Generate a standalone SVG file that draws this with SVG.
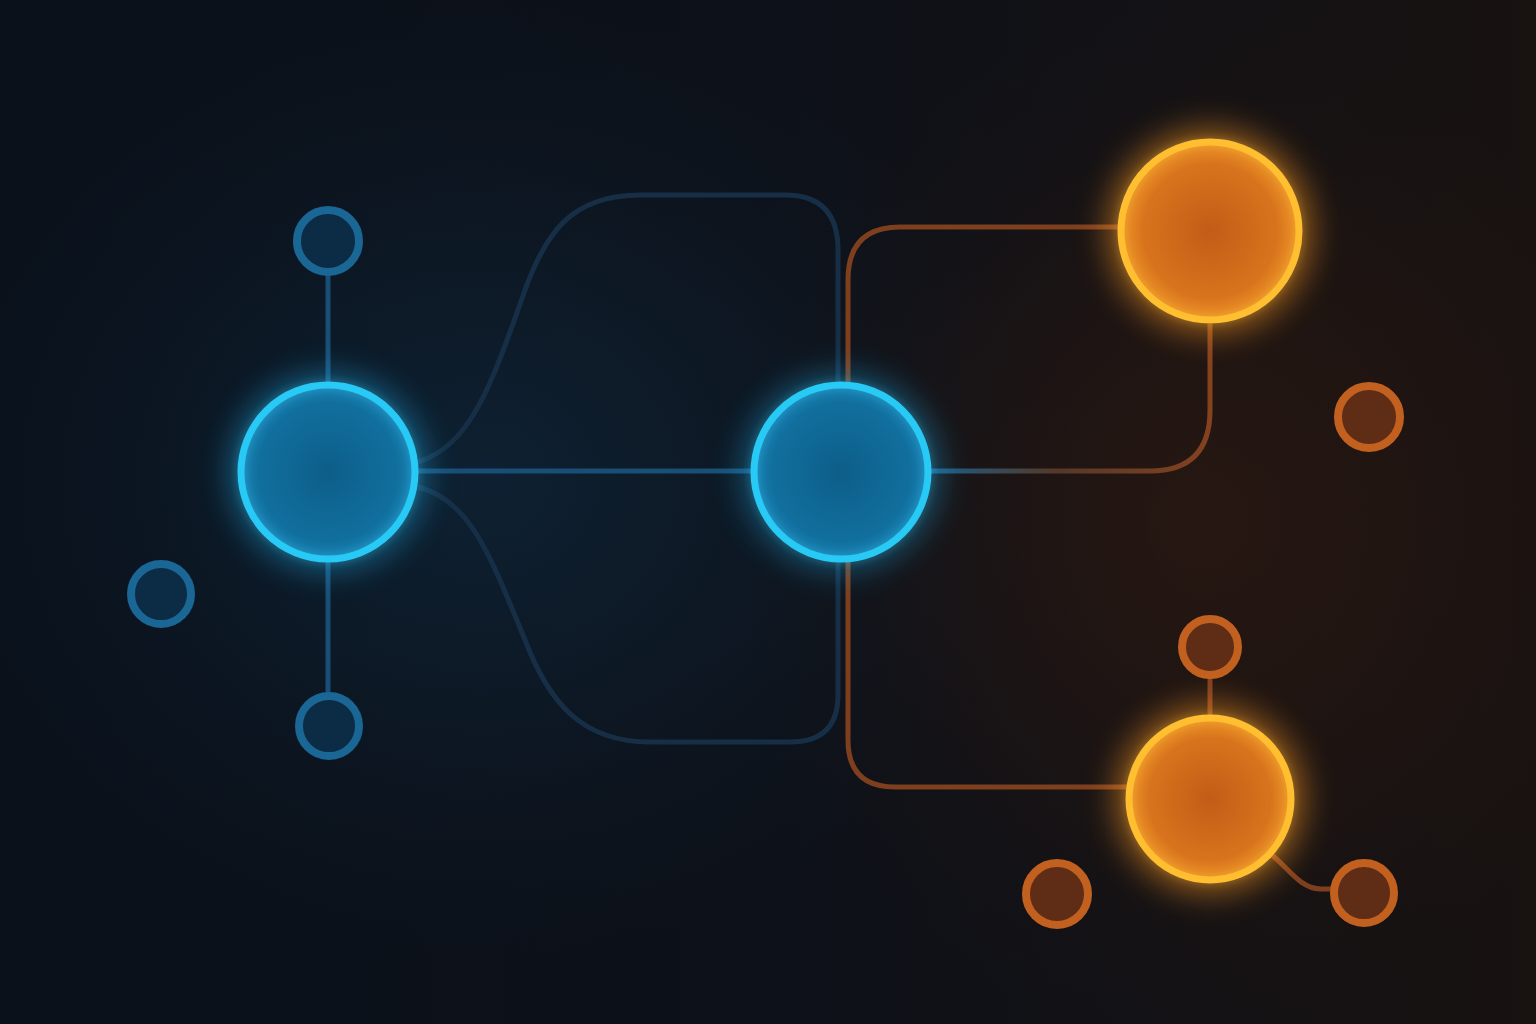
<svg xmlns="http://www.w3.org/2000/svg" width="1536" height="1024" viewBox="0 0 1536 1024">
<defs>
<linearGradient id="bg" x1="0" y1="0" x2="1" y2="0">
<stop offset="0" stop-color="#0a111b"/>
<stop offset="0.5" stop-color="#0d1119"/>
<stop offset="1" stop-color="#181211"/>
</linearGradient>
<radialGradient id="bgBlue" cx="0.5" cy="0.5" r="0.5">
<stop offset="0" stop-color="#0f2d45" stop-opacity="0.55"/>
<stop offset="0.4" stop-color="#0f2d45" stop-opacity="0.3"/>
<stop offset="0.75" stop-color="#0f2d45" stop-opacity="0.08"/>
<stop offset="1" stop-color="#0f2d45" stop-opacity="0"/>
</radialGradient>
<radialGradient id="bgOrange" cx="0.5" cy="0.5" r="0.5">
<stop offset="0" stop-color="#3a1c0e" stop-opacity="0.5"/>
<stop offset="0.4" stop-color="#3a1c0e" stop-opacity="0.3"/>
<stop offset="0.75" stop-color="#3a1c0e" stop-opacity="0.08"/>
<stop offset="1" stop-color="#3a1c0e" stop-opacity="0"/>
</radialGradient>
<radialGradient id="blueFill" cx="0.5" cy="0.5" r="0.5">
<stop offset="0" stop-color="#0d5e88"/>
<stop offset="0.8" stop-color="#116f9e"/>
<stop offset="1" stop-color="#1a86b8"/>
</radialGradient>
<radialGradient id="orangeFill" cx="0.5" cy="0.5" r="0.5">
<stop offset="0" stop-color="#c25c17"/>
<stop offset="0.75" stop-color="#d8731d"/>
<stop offset="1" stop-color="#ee9628"/>
</radialGradient>
<linearGradient id="bo" x1="931" y1="0" x2="1210" y2="0" gradientUnits="userSpaceOnUse">
<stop offset="0" stop-color="#1b5c86"/>
<stop offset="0.45" stop-color="#553828"/>
<stop offset="1" stop-color="#84421f"/>
</linearGradient>
<filter id="glow" x="-60%" y="-60%" width="220%" height="220%">
<feGaussianBlur stdDeviation="16"/>
</filter>
<filter id="softglow" x="-50%" y="-50%" width="200%" height="200%">
<feGaussianBlur stdDeviation="5"/>
</filter>
<style>
.bline{fill:none;stroke:#194f76;stroke-width:5;stroke-linecap:round}
.bdim{fill:none;stroke:#172f46;stroke-width:5}
.oline{fill:none;stroke:#7e3f1f;stroke-width:5}
.bsmall{fill:#0b2c44;stroke:#1a6694;stroke-width:8}
.osmall{fill:#5f2c16;stroke:#c2611f;stroke-width:8}
.bbig{fill:url(#blueFill);stroke:#22c6f4;stroke-width:7}
.obig{fill:url(#orangeFill);stroke:#ffbb2c;stroke-width:7}
</style>
</defs>
<rect width="1536" height="1024" fill="url(#bg)"/>
<ellipse cx="480" cy="480" rx="560" ry="480" fill="url(#bgBlue)"/>
<ellipse cx="1200" cy="520" rx="460" ry="520" fill="url(#bgOrange)"/>

<g id="connectors">
<path class="bline" d="M328 274 V383"/>
<path class="bline" d="M328 562 V694"/>
<path class="bline" d="M418 471 H751"/>
<path class="bdim" d="M418 462 C470 445 490 390 525 290 C545 235 570 195 640 195 H785 Q838 195 838 250 V383"/>
<path class="bdim" d="M418 487 C470 500 490 555 525 640 C548 700 580 742 650 742 H790 Q838 742 838 695 V562"/>
<path class="oline" d="M848 383 V280 Q848 227 900 227 H1118"/>
<path fill="none" stroke="url(#bo)" stroke-width="5" d="M931 471 H1150 Q1210 471 1210 410 V324"/>
<path class="oline" d="M848 562 V740 Q848 787 895 787 H1127"/>
<path class="oline" d="M1210 716 V677"/>
<path class="oline" d="M1272 855 C1290 870 1300 888 1320 889 H1332"/>
</g>

<g id="small-blue-top"><circle class="bsmall" cx="328" cy="241" r="31"/></g>
<g id="small-blue-left"><circle class="bsmall" cx="161" cy="594" r="30"/></g>
<g id="small-blue-bottom"><circle class="bsmall" cx="329" cy="726" r="30"/></g>
<g id="small-orange-right"><circle class="osmall" cx="1369" cy="417" r="31"/></g>
<g id="small-orange-top"><circle class="osmall" cx="1210" cy="647" r="28"/></g>
<g id="small-orange-left"><circle class="osmall" cx="1057" cy="894" r="31"/></g>
<g id="small-orange-br"><circle class="osmall" cx="1364" cy="893" r="30"/></g>

<g id="node-blue-a">
<circle cx="328" cy="472" r="98" fill="#1aa6e0" opacity="0.5" filter="url(#glow)"/>
<circle class="bbig" cx="328" cy="472" r="87"/>
<circle cx="328" cy="472" r="87" fill="none" stroke="#4fe0ff" stroke-width="3" opacity="0.6" filter="url(#softglow)"/>
</g>
<g id="node-blue-b">
<circle cx="841" cy="472" r="98" fill="#1aa6e0" opacity="0.45" filter="url(#glow)"/>
<circle class="bbig" cx="841" cy="472" r="87"/>
<circle cx="841" cy="472" r="87" fill="none" stroke="#4fe0ff" stroke-width="3" opacity="0.6" filter="url(#softglow)"/>
</g>
<g id="node-orange-c">
<circle cx="1210" cy="231" r="102" fill="#ff9a20" opacity="0.55" filter="url(#glow)"/>
<circle class="obig" cx="1210" cy="231" r="89"/>
<circle cx="1210" cy="231" r="89" fill="none" stroke="#ffd84a" stroke-width="3" opacity="0.6" filter="url(#softglow)"/>
</g>
<g id="node-orange-d">
<circle cx="1210" cy="799" r="94" fill="#ff9a20" opacity="0.55" filter="url(#glow)"/>
<circle class="obig" cx="1210" cy="799" r="81"/>
<circle cx="1210" cy="799" r="81" fill="none" stroke="#ffd84a" stroke-width="3" opacity="0.6" filter="url(#softglow)"/>
</g>
</svg>
